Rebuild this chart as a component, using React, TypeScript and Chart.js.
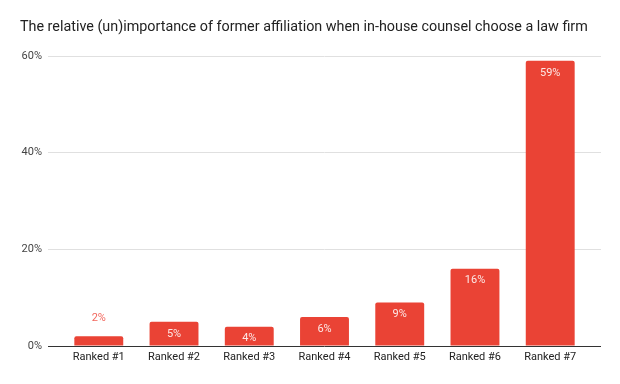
import React, { useEffect, useRef } from 'react';
import { Chart, registerables } from 'chart.js';

Chart.register(...registerables);

const chartTitle = 'The relative (un)importance of former affiliation when in-house counsel choose a law firm';
const categories = ['Ranked #1', 'Ranked #2', 'Ranked #3', 'Ranked #4', 'Ranked #5', 'Ranked #6', 'Ranked #7'];
const values = [2, 5, 4, 6, 9, 16, 59];
const yTicks = [0, 20, 40, 60];

const FONT = 'Roboto';
const BAR = '#ea4335';

const valueLabels = {
  id: 'valueLabels',
  afterDatasetsDraw(chart: any) {
    const ctx = chart.ctx;
    const meta = chart.getDatasetMeta(0);
    ctx.save();
    ctx.font = `11px ${FONT}`;
    ctx.textAlign = 'center';
    ctx.textBaseline = 'middle';
    meta.data.forEach((el: any, i: number) => {
      const h = el.base - el.y;
      const text = values[i] + '%';
      if (h < 15) {
        ctx.fillStyle = '#f2675d';
        ctx.fillText(text, el.x, el.y - 18);
      } else {
        ctx.fillStyle = 'rgba(255,255,255,0.88)';
        ctx.fillText(text, el.x, el.y + 12);
      }
    });
    ctx.restore();
  },
};

export default function App() {
  const ref = useRef<HTMLCanvasElement | null>(null);
  useEffect(() => {
    document.body.style.margin = '0';
    const canvas = ref.current;
    if (!canvas) return;
    const chart = new Chart(canvas, {
      type: 'bar',
      data: {
        datasets: [
          {
            data: categories.map((_, i) => ({ x: i, y: values[i] })),
            backgroundColor: BAR,
            borderRadius: 2,
            borderSkipped: 'bottom',
            barPercentage: 0.65,
            categoryPercentage: 1,
          },
        ],
      },
      options: {
        responsive: false,
        animation: false,
        layout: { padding: { left: 20, right: 19, top: 0, bottom: 0 } },
        plugins: {
          legend: { display: false },
          tooltip: { enabled: false },
          title: {
            display: true,
            text: chartTitle,
            align: 'start',
            color: '#222222',
            font: { family: FONT, size: 14.35, weight: 'normal' },
            padding: { top: 19, bottom: 19.8 },
          },
        },
        scales: {
          x: {
            type: 'linear',
            offset: false,
            min: -0.675,
            max: 6.675,
            afterBuildTicks: (scale: any) => {
              scale.ticks = categories.map((_, i) => ({ value: i }));
            },
            afterFit: (scale: any) => {
              scale.height = 38;
            },
            grid: { display: false, drawTicks: false, offset: false },
            border: { display: false },
            ticks: {
              autoSkip: false,
              maxRotation: 0,
              padding: 5,
              color: '#222222',
              font: { family: FONT, size: 11 },
              callback: (v: any) => categories[v as number] ?? '',
            },
          },
          y: {
            min: 0,
            max: 60,
            afterBuildTicks: (scale: any) => {
              scale.ticks = yTicks.map((v) => ({ value: v }));
            },
            afterFit: (scale: any) => {
              scale.width = 28;
            },
            grid: {
              drawTicks: false,
              color: (c: any) => (c.tick && c.tick.value === 0 ? '#333333' : '#e0e0e0'),
              lineWidth: 1,
            },
            border: { display: false },
            ticks: {
              padding: 6,
              color: '#444444',
              font: { family: FONT, size: 11 },
              callback: (v: any) => v + '%',
            },
          },
        },
      },
      plugins: [valueLabels],
    } as any);
    return () => chart.destroy();
  }, []);
  return <canvas ref={ref} width={620} height={384} style={{ display: 'block' }} />;
}
